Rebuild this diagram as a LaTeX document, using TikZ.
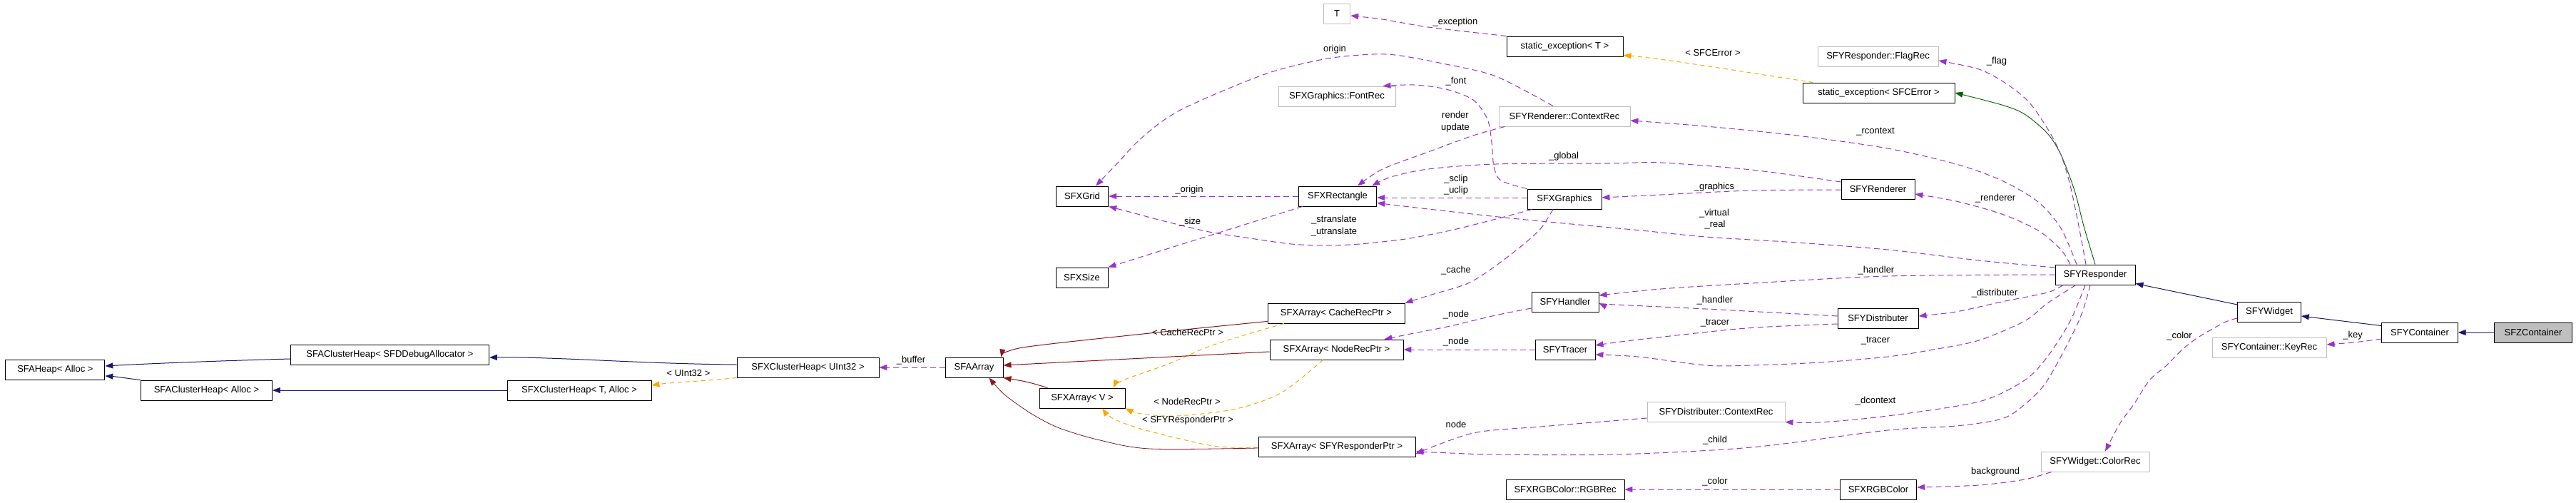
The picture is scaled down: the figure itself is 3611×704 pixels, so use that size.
\documentclass[tikz,border=0pt]{standalone}
\usepackage{fontspec}
\setmainfont{Liberation Sans}
\usetikzlibrary{arrows.meta,calc}
\definecolor{navyc}{HTML}{191970}
\definecolor{redc}{HTML}{8B1A1A}
\definecolor{greenc}{HTML}{006400}
\definecolor{orangec}{HTML}{FFA500}
\definecolor{purplec}{HTML}{9A32CD}
\definecolor{grayc}{HTML}{BFBFBF}
\begin{document}
\begin{tikzpicture}[x=1pt,y=-1pt,
  cls/.style={draw=black, line width=0.9pt, minimum height=28pt, inner sep=0pt, font=\fontsize{13}{15}\selectfont, fill=white},
  ucls/.style={cls, draw=grayc},
  lbl/.style={font=\fontsize{13}{15}\selectfont, inner sep=0pt},
  tip/.style={-{Triangle[length=11pt,width=8pt]}},
  inhc/.style={tip, draw=navyc, line width=1pt},
  redl/.style={tip, draw=redc, line width=1pt},
  greenl/.style={tip, draw=greenc, line width=0.9pt},
  usel/.style={tip, draw=purplec, line width=1pt, dash pattern=on 8pt off 5pt},
  tmpl/.style={tip, draw=orangec, line width=1pt, dash pattern=on 6pt off 5pt}]
\useasboundingbox[fill=white] (0,0) rectangle (3611,704);
% nodes
\node[cls, minimum width=139pt] (heap) at (77.4,518) {SFAHeap< Alloc >};
\node[cls, minimum width=278pt] (chdbg) at (546.5,497) {SFAClusterHeap< SFDDebugAllocator >};
\node[cls, minimum width=184pt] (challoc) at (289.5,547) {SFAClusterHeap< Alloc >};
\node[cls, minimum width=202pt] (xchT) at (812,547) {SFXClusterHeap< T, Alloc >};
\node[cls, minimum width=199pt] (xchU) at (1132.5,515) {SFXClusterHeap< UInt32 >};
\node[cls, minimum width=81pt] (aarr) at (1365.5,515) {SFAArray};
\node[cls, minimum width=120pt] (xarrV) at (1517,558) {SFXArray< V >};
\node[cls, minimum width=192pt] (arrCache) at (1873,439) {SFXArray< CacheRecPtr >};
\node[cls, minimum width=187pt] (arrNode) at (1873.5,490) {SFXArray< NodeRecPtr >};
\node[cls, minimum width=220pt] (arrResp) at (1874,626) {SFXArray< SFYResponderPtr >};
\node[ucls, minimum width=37.5pt] (T) at (1874,19) {T};
\node[cls, minimum width=163pt] (excT) at (2193.5,65) {static\_exception< T >};
\node[ucls, minimum width=164pt] (fontrec) at (1874,135) {SFXGraphics::FontRec};
\node[ucls, minimum width=184pt] (rctx) at (2193,163) {SFYRenderer::ContextRec};
\node[cls, minimum width=73.5pt] (grid) at (1517,275) {SFXGrid};
\node[cls, minimum width=109.5pt] (rect) at (1875,275) {SFXRectangle};
\node[cls, minimum width=104pt] (gfx) at (2193,279) {SFXGraphics};
\node[cls, minimum width=73pt] (size) at (1516.5,389) {SFXSize};
\node[cls, minimum width=94pt] (handler) at (2194,423) {SFYHandler};
\node[cls, minimum width=84pt] (tracer) at (2194,490) {SFYTracer};
\node[ucls, minimum width=193pt] (dctx) at (2405.5,577) {SFYDistributer::ContextRec};
\node[cls, minimum width=166pt] (rgbrec) at (2194,686) {SFXRGBColor::RGBRec};
\node[ucls, minimum width=169pt] (flagrec) at (2632.5,79) {SFYResponder::FlagRec};
\node[cls, minimum width=213pt] (excE) at (2633.5,130) {static\_exception< SFCError >};
\node[cls, minimum width=103pt] (renderer) at (2632.5,265) {SFYRenderer};
\node[cls, minimum width=113pt] (distrib) at (2632.5,446) {SFYDistributer};
\node[cls, minimum width=107.5pt] (rgb) at (2633,686) {SFXRGBColor};
\node[cls, minimum width=112pt] (resp) at (2937,385) {SFYResponder};
\node[cls, minimum width=88.6pt] (widget) at (3181,437) {SFYWidget};
\node[ucls, minimum width=152pt] (colorrec) at (2937,647) {SFYWidget::ColorRec};
\node[ucls, minimum width=160pt] (keyrec) at (3181,487) {SFYContainer::KeyRec};
\node[cls, minimum width=106.5pt] (container) at (3392,466) {SFYContainer};
\node[cls, minimum width=109.5pt, fill=grayc] (zcont) at (3551,466) {SFZContainer};
% inheritance (navy)
\draw[inhc] ([yshift=-6pt]chdbg.west) .. controls (330,505) and (220,509) .. ([yshift=5pt]heap.east);
\draw[inhc] (challoc.north west) .. controls (175,530) and (165,528) .. ([yshift=-9pt]heap.east);
\draw[inhc] (xchT.west) -- (challoc.east);
\draw[inhc] ([yshift=4pt]xchU.west) .. controls (900,510) and (780,500) .. ([yshift=-4pt]chdbg.east);
\draw[inhc] ([yshift=10pt]widget.west) -- ([yshift=2pt]resp.south east);
\draw[inhc] ([yshift=-5pt]container.north west) -- ([yshift=-6pt]widget.east);
\draw[inhc] (zcont.west) -- (container.east);
% template instances (orange)
\draw[tmpl] (xchU.south west) .. controls (990,534) and (940,536) .. ([yshift=7pt]xchT.east);
\draw[tmpl] ([xshift=-92pt]excE.north) .. controls (2440,100) and (2330,82) .. ([yshift=2pt]excT.south east);
\draw[tmpl] plot[smooth] coordinates {([xshift=-73pt]arrCache.south) (1702,483) (1638,510) (1574,533) ([xshift=44pt]xarrV.north)};
\draw[tmpl] plot[smooth] coordinates {([xshift=-19pt]arrNode.south) (1797,550) (1733,573) (1650,583) (1600,580) (xarrV.south east)};
\draw[tmpl] plot[smooth] coordinates {([yshift=-1pt]arrResp.west) (1701,625) (1606,603) (1561,587) ([xshift=28pt]xarrV.south)};
% dark red inheritance
\draw[redl] ([xshift=12pt]xarrV.north west) .. controls (1440,535) .. (aarr.south east);
\draw[redl] plot[smooth] coordinates {([yshift=3pt]arrCache.south west) (1612,467) (1434,487) ([xshift=-3pt]aarr.north east)};
\draw[redl] ([yshift=-3pt]arrNode.west) -- ([yshift=3pt]aarr.east);
\draw[redl, line width=0.8pt] plot[smooth] coordinates {([yshift=-2pt]arrResp.west) (1612,629) (1542,617) (1485,600) (1446,580) (1408,553) ([xshift=21pt]aarr.south)};
% dark green
\draw[greenl] plot[smooth] coordinates {(resp.north) (2921,317) (2908,267) (2889,217) (2870,187) (2838,160) (2806,147) (excE.east)};
% usage (purple)
\draw[usel] plot[smooth] coordinates {(excT.north west) (2002,38) (1938,27) ([yshift=-3pt]T.east)};
\draw[usel] plot[smooth] coordinates {([xshift=-16pt]rctx.north) (2097,107) (2027,90) (1963,78) (1925,76) (1861,82) (1785,100) (1715,127) (1657,153) (1625,173) (1593,200) (1568,227) ([xshift=19pt]grid.north)};
\draw[usel] plot[smooth] coordinates {(gfx.north west) (2104,253) (2094,233) (2091,200) (2085,167) (2065,140) (2027,125) (1982,119) ([xshift=-18pt]fontrec.north east)};
\draw[usel] plot[smooth] coordinates {([xshift=9pt]rctx.south west) (2065,190) (2002,213) (1938,237) ([xshift=28pt]rect.north)};
\draw[usel] plot[smooth] coordinates {([yshift=10pt]renderer.west) (2455,238) (2328,228) (2257,229) (2097,230) (2002,237) (1950,248) ([xshift=-7pt]rect.north east)};
\draw[usel] ([yshift=2pt]gfx.west) -- ([yshift=-2pt]rect.east);
\draw[usel] plot[smooth] coordinates {([yshift=10pt]resp.west) (2774,365) (2646,350) (2519,340) (2391,332) (2300,323) (2129,307) (2002,293) ([yshift=5pt]rect.south east)};
\draw[usel] (rect.west) -- (grid.east);
\draw[usel] plot[smooth] coordinates {([xshift=7pt]gfx.south west) (2097,307) (2033,323) (1970,335) (1906,342) (1861,344) (1810,342) (1746,333) (1695,325) (1632,310) (1587,298) (grid.south east)};
\draw[usel] ([xshift=6pt]rect.south west) -- (size.north east);
\draw[usel] plot[smooth] coordinates {([yshift=-1pt]renderer.west) (2455,267) (2328,273) ([yshift=2pt]gfx.east)};
\draw[usel] plot[smooth] coordinates {([xshift=-26pt]resp.north) (2889,320) (2857,283) (2806,253) (2742,230) (2646,208) (2519,190) (2391,177) ([yshift=-6pt]rctx.east)};
\draw[usel] plot[smooth] coordinates {([xshift=-13pt]resp.north) (2914,317) (2902,260) (2889,217) (2870,180) (2844,143) (2812,117) (2774,97) ([yshift=-6pt]flagrec.east)};
\draw[usel] plot[smooth] coordinates {([xshift=-35pt]resp.north) (2889,350) (2857,323) (2806,300) (2742,282) ([yshift=-7pt]renderer.east)};
\draw[usel] plot[smooth] coordinates {(resp.west) (2646,387) (2455,397) (2328,405) ([yshift=9pt]handler.east)};
\draw[usel] plot[smooth] coordinates {([yshift=3pt]distrib.west) (2391,433) (2264,427) ([yshift=-2pt]handler.east)};
\draw[usel] plot[smooth] coordinates {([xshift=-45pt]resp.south) (2870,410) (2806,423) (2742,437) ([yshift=3pt]distrib.east)};
\draw[usel] plot[smooth] coordinates {([yshift=-8pt]distrib.west) (2479,458) (2415,463) (2288,477) ([yshift=6pt]tracer.east)};
\draw[usel] plot[smooth] coordinates {([xshift=-27pt]resp.south) (2870,425) (2838,450) (2774,477) (2710,490) (2646,500) (2551,508) (2455,512) (2391,512) (2296,500) ([yshift=-7pt]tracer.east)};
\draw[usel] plot[smooth] coordinates {([xshift=-16pt]gfx.south) (2160,320) (2135,343) (2096,373) (2058,397) (2007,413) (arrCache.north east)};
\draw[usel] plot[smooth] coordinates {([yshift=-9pt]handler.west) (2096,442) (2033,457) (1982,467) ([xshift=-27pt]arrNode.north east)};
\draw[usel] (tracer.west) -- (arrNode.east);
\draw[usel] plot[smooth] coordinates {([xshift=-14pt]resp.south) (2902,450) (2870,500) (2838,533) (2774,563) (2646,583) (2551,592) (dctx.south east)};
\draw[usel] plot[smooth] coordinates {([yshift=-9pt]dctx.west) (2160,598) (2065,607) ([yshift=-10pt]arrResp.east)};
\draw[usel] plot[smooth] coordinates {([xshift=-7pt]resp.south) (2914,450) (2870,533) (2838,567) (2806,587) (2742,597) (2646,603) (2455,627) (2264,637) (2096,637) (2033,635) ([yshift=-7pt]arrResp.east)};
\draw[usel] plot[smooth] coordinates {([yshift=-9pt]widget.west) (3118,452) (3081,473) (3059,490) (3036,513) (3013,533) (2991,567) (2972,593) ([xshift=14pt]colorrec.north)};
\draw[usel] plot[smooth] coordinates {([xshift=15pt]colorrec.south west) (2838,672) (2774,680) ([yshift=3pt]rgb.east)};
\draw[usel] (rgb.west) -- (rgbrec.east);
\draw[usel] plot[smooth] coordinates {([yshift=-9pt]container.west) (3299,480) ([yshift=4pt]keyrec.east)};
\draw[usel] (aarr.west) -- (xchU.east);
% labels
\node[lbl] (l1) at (965,523) {< UInt32 >};
\node[lbl] (l2) at (1277,505) {\_buffer};
\node[lbl] (l3) at (1665,466) {< CacheRecPtr >};
\node[lbl] (l4) at (1664,563) {< NodeRecPtr >};
\node[lbl] (l5) at (1665,589) {< SFYResponderPtr >};
\node[lbl] (l6) at (2040,31) {\_exception};
\node[lbl] (l7) at (1871,69) {origin};
\node[lbl] (l8) at (2041,114) {\_font};
\node[lbl] (l9) at (2040,161) {render};
\node[lbl] (l10) at (2040,179) {update};
\node[lbl] (l11) at (2192,219) {\_global};
\node[lbl] (l12) at (1667,266) {\_origin};
\node[lbl] (l13) at (2041,251) {\_sclip};
\node[lbl] (l14) at (2041,267) {\_uclip};
\node[lbl] (l15) at (1668,311) {\_size};
\node[lbl] (l16) at (1870,308) {\_stranslate};
\node[lbl] (l17) at (1870,325) {\_utranslate};
\node[lbl] (l18) at (2041,379) {\_cache};
\node[lbl] (l19) at (2041,441) {\_node};
\node[lbl] (l20) at (2041,479) {\_node};
\node[lbl] (l21) at (2404,421) {\_handler};
\node[lbl] (l22) at (2404,453) {\_tracer};
\node[lbl] (l23) at (2041,595) {node};
\node[lbl] (l24) at (2404,617) {\_child};
\node[lbl] (l25) at (2404,675) {\_color};
\node[lbl] (l26) at (2401,74) {< SFCError >};
\node[lbl] (l27) at (2799,86) {\_flag};
\node[lbl] (l28) at (2629,185) {\_rcontext};
\node[lbl] (l29) at (2403,262) {\_graphics};
\node[lbl] (l30) at (2797,278) {\_renderer};
\node[lbl] (l31) at (2403,299) {\_virtual};
\node[lbl] (l32) at (2404,315) {\_real};
\node[lbl] (l33) at (2630,379) {\_handler};
\node[lbl] (l34) at (2796,411) {\_distributer};
\node[lbl] (l35) at (2629,478) {\_tracer};
\node[lbl] (l36) at (2629,562) {\_dcontext};
\node[lbl] (l37) at (2797,661) {background};
\node[lbl] (l38) at (3055,471) {\_color};
\node[lbl] (l39) at (3298,470) {\_key};
\end{tikzpicture}
\end{document}
